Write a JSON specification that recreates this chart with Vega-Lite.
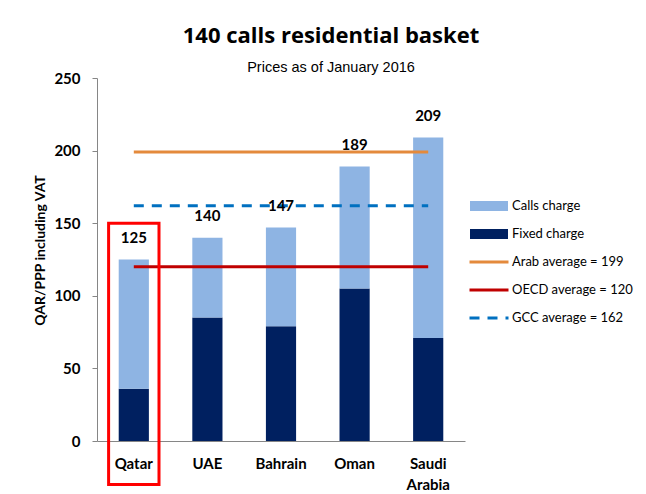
{
  "$schema": "https://vega.github.io/schema/vega-lite/v6.json",
  "width": 368,
  "height": 363,
  "autosize": "none",
  "padding": {"left": 97, "top": 78, "right": 181, "bottom": 53},
  "background": "white",
  "title": {
    "text": "140 calls residential basket",
    "subtitle": "Prices as of January 2016",
    "anchor": "middle",
    "frame": "group",
    "dx": 50,
    "font": "Open Sans",
    "fontSize": 22,
    "fontWeight": "bold",
    "color": "#000000",
    "subtitleFont": "Liberation Sans",
    "subtitleFontSize": 14.5,
    "subtitleColor": "#000000",
    "subtitlePadding": 13,
    "offset": -4
  },
  "config": {
    "view": {"stroke": null},
    "font": "Lato"
  },
  "datasets": {
    "bars": [
      {"country": "Qatar", "component": "Fixed charge", "value": 36},
      {"country": "Qatar", "component": "Calls charge", "value": 89},
      {"country": "UAE", "component": "Fixed charge", "value": 85},
      {"country": "UAE", "component": "Calls charge", "value": 55},
      {"country": "Bahrain", "component": "Fixed charge", "value": 79},
      {"country": "Bahrain", "component": "Calls charge", "value": 68},
      {"country": "Oman", "component": "Fixed charge", "value": 105},
      {"country": "Oman", "component": "Calls charge", "value": 84},
      {"country": "Saudi Arabia", "component": "Fixed charge", "value": 71},
      {"country": "Saudi Arabia", "component": "Calls charge", "value": 138}
    ],
    "lines": [
      {"country": "Qatar", "series": "Arab average = 199", "value": 199},
      {"country": "UAE", "series": "Arab average = 199", "value": 199},
      {"country": "Bahrain", "series": "Arab average = 199", "value": 199},
      {"country": "Oman", "series": "Arab average = 199", "value": 199},
      {"country": "Saudi Arabia", "series": "Arab average = 199", "value": 199},
      {"country": "Qatar", "series": "OECD average = 120", "value": 120},
      {"country": "UAE", "series": "OECD average = 120", "value": 120},
      {"country": "Bahrain", "series": "OECD average = 120", "value": 120},
      {"country": "Oman", "series": "OECD average = 120", "value": 120},
      {"country": "Saudi Arabia", "series": "OECD average = 120", "value": 120},
      {"country": "Qatar", "series": "GCC average = 162", "value": 162},
      {"country": "UAE", "series": "GCC average = 162", "value": 162},
      {"country": "Bahrain", "series": "GCC average = 162", "value": 162},
      {"country": "Oman", "series": "GCC average = 162", "value": 162},
      {"country": "Saudi Arabia", "series": "GCC average = 162", "value": 162}
    ],
    "highlight": [
      {"country": "Qatar"}
    ]
  },
  "layer": [
    {
      "data": {"name": "bars"},
      "mark": {"type": "bar"},
      "encoding": {
        "x": {
          "field": "country",
          "type": "nominal",
          "sort": ["Qatar", "UAE", "Bahrain", "Oman", "Saudi Arabia"],
          "scale": {"paddingInner": 0.59, "paddingOuter": 0.295},
          "axis": {
            "title": null,
            "labelAngle": 0,
            "labelFont": "Lato",
            "labelFontSize": 15,
            "labelFontWeight": "bold",
            "labelColor": "#000000",
            "labelPadding": 15,
            "labelLineHeight": 21,
            "labelExpr": "datum.value == 'Saudi Arabia' ? ['Saudi', 'Arabia'] : datum.value",
            "ticks": false,
            "domainColor": "#868686",
            "domainWidth": 1
          }
        },
        "y": {
          "field": "value",
          "type": "quantitative",
          "stack": "zero",
          "scale": {"domain": [0, 250], "nice": false, "zero": true},
          "axis": {
            "title": "QAR/PPP including VAT",
            "titleFont": "Lato",
            "titleFontSize": 14,
            "titleFontWeight": "bold",
            "titleColor": "#000000",
            "titlePadding": 6,
            "titleY": 172,
            "values": [0, 50, 100, 150, 200, 250],
            "grid": false,
            "tickSize": 5,
            "tickColor": "#868686",
            "domainColor": "#868686",
            "labelFont": "Lato",
            "labelFontSize": 15,
            "labelFontWeight": "bold",
            "labelColor": "#000000",
            "labelPadding": 12
          }
        },
        "fill": {
          "field": "component",
          "type": "nominal",
          "scale": {"domain": ["Calls charge", "Fixed charge"], "range": ["#8EB4E3", "#002060"]},
          "legend": {
            "title": null,
            "orient": "none",
            "legendX": 373,
            "legendY": 120,
            "symbolType": "M-1,-0.263H1V0.263H-1Z",
            "symbolSize": 1444,
            "symbolStrokeWidth": 0,
            "clipHeight": 16,
            "rowPadding": 12,
            "labelFont": "Lato",
            "labelFontSize": 13,
            "labelColor": "#000000",
            "labelOffset": 4,
            "padding": 0
          }
        },
        "order": {"field": "component", "sort": "descending"}
      }
    },
    {
      "data": {"name": "lines"},
      "mark": {"type": "line", "strokeWidth": 3},
      "encoding": {
        "x": {"field": "country", "type": "nominal", "sort": ["Qatar", "UAE", "Bahrain", "Oman", "Saudi Arabia"]},
        "y": {"field": "value", "type": "quantitative"},
        "stroke": {
          "field": "series",
          "type": "nominal",
          "scale": {
            "domain": ["Arab average = 199", "OECD average = 120", "GCC average = 162"],
            "range": ["#E48A3C", "#C00000", "#0070C0"]
          },
          "legend": {
            "title": null,
            "orient": "none",
            "legendX": 371,
            "legendY": 176,
            "symbolType": "stroke",
            "symbolSize": 1521,
            "symbolStrokeWidth": 3,
            "clipHeight": 16,
            "rowPadding": 12,
            "labelFont": "Lato",
            "labelFontSize": 13,
            "labelColor": "#000000",
            "labelOffset": 2,
            "padding": 0
          }
        },
        "strokeDash": {
          "field": "series",
          "type": "nominal",
          "scale": {
            "domain": ["Arab average = 199", "OECD average = 120", "GCC average = 162"],
            "range": [[1, 0], [1, 0], [10, 8]]
          }
        }
      }
    },
    {
      "data": {"name": "bars"},
      "transform": [
        {"aggregate": [{"op": "sum", "field": "value", "as": "total"}], "groupby": ["country"]}
      ],
      "mark": {"type": "text", "font": "Lato", "fontSize": 15, "fontWeight": "bold", "color": "#000000", "baseline": "alphabetic", "dy": -17},
      "encoding": {
        "x": {"field": "country", "type": "nominal", "sort": ["Qatar", "UAE", "Bahrain", "Oman", "Saudi Arabia"]},
        "y": {"field": "total", "type": "quantitative"},
        "text": {"field": "total", "type": "quantitative"}
      }
    },
    {
      "data": {"name": "highlight"},
      "mark": {"type": "bar", "fill": "transparent", "stroke": "#FF0000", "strokeWidth": 3, "width": {"band": 1.67}},
      "encoding": {
        "x": {"field": "country", "type": "nominal", "sort": ["Qatar", "UAE", "Bahrain", "Oman", "Saudi Arabia"]},
        "y": {"datum": 150},
        "y2": {"datum": -30}
      }
    }
  ]
}
